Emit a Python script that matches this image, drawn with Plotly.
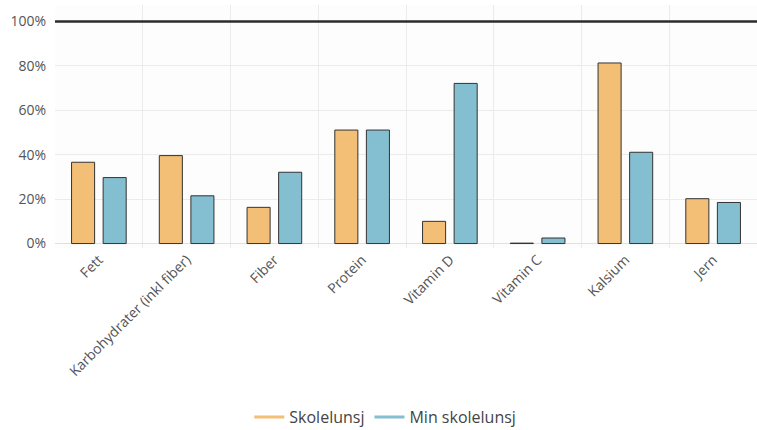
import plotly.graph_objects as go

categories = ["Fett", "Karbohydrater (inkl fiber)", "Fiber", "Protein",
              "Vitamin D", "Vitamin C", "Kalsium", "Jern"]
skolelunsj = [0.366, 0.396, 0.163, 0.511, 0.100, 0.002, 0.813, 0.202]
min_skolelunsj = [0.297, 0.215, 0.321, 0.511, 0.721, 0.025, 0.411, 0.185]
series_names = ["Skolelunsj", "Min skolelunsj"]
target = 1.0
y_ticks = [0, 0.2, 0.4, 0.6, 0.8, 1.0]

ORANGE = "#F3BE75"
BLUE = "#84BED1"
FONT = "Open Sans"

fig = go.Figure()
for name, vals, col in [(series_names[0], skolelunsj, ORANGE),
                        (series_names[1], min_skolelunsj, BLUE)]:
    fig.add_trace(go.Bar(
        x=categories, y=vals, name=name, showlegend=False,
        marker=dict(color=col, line=dict(color="#333333", width=1)),
    ))
for name, col in [(series_names[0], ORANGE), (series_names[1], BLUE)]:
    fig.add_trace(go.Scatter(
        x=[None], y=[None], mode="lines", name=name,
        line=dict(color=col, width=3), showlegend=True,
    ))

fig.add_shape(type="line", xref="paper", yref="y", x0=0, x1=1,
              y0=target, y1=target, line=dict(color="#2b2b2b", width=2.5))

fig.update_layout(
    width=757, height=430,
    margin=dict(l=55, r=0, t=5, b=182, autoexpand=False),
    paper_bgcolor="white", plot_bgcolor="#FDFDFD",
    barmode="group", bargap=0.28, bargroupgap=0.27,
    font=dict(family=FONT, color="#555555", size=12),
    legend=dict(orientation="h", x=0.509, xanchor="center", xref="container",
                y=0.03, yanchor="middle", yref="container", itemwidth=30,
                font=dict(size=16, color="#444444")),
    xaxis=dict(tickangle=-45, tickson="boundaries", showgrid=True,
               gridcolor="#EBEBEB", ticks="", showline=False, automargin=False,
               tickfont=dict(size=14, color="#555555")),
    yaxis=dict(range=[-0.02, 1.074], tickvals=y_ticks, tickformat=".0%",
               gridcolor="#EBEBEB", zeroline=True, zerolinecolor="#E0E0E0",
               zerolinewidth=1, showline=False, automargin=False,
               ticklabelstandoff=8,
               tickfont=dict(size=14, color="#555555")),
)

fig.write_html("out.html")
